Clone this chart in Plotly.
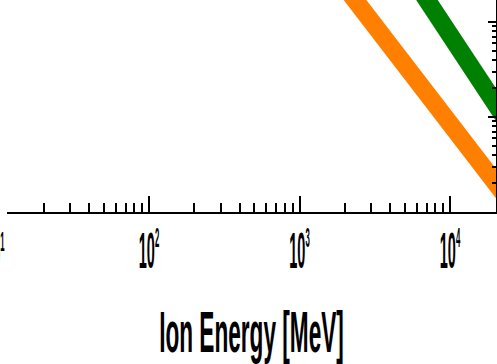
import plotly.graph_objects as go

# Ion energy [MeV] and the quantity plotted for each species
energy_orange = [2000, 5000, 10000, 20000, 25000]
value_orange = [235, 35.6, 8.55, 2.05, 1.29]

energy_green = [5000, 10000, 20000, 25000]
value_green = [386, 73, 13.9, 8.1]

# x-axis decades that carry a label
label_decades = [1, 2, 3, 4]

# axis ranges (log10 units)
x_range = [1.0565, 4.3056]
y_range = [0.0, 2.2316]

ORANGE = "rgb(255,128,0)"
GREEN = "rgb(0,128,0)"
FONT = "Liberation Sans, Arial, sans-serif"
LABEL_SIZE = 50
SUP_SHIFT_SIZE = 43   # sets how high the exponent is raised
SUP_SIZE = 27


def decade_label(p):
    return ('10<sup style="font-size:%dpx"><span style="font-size:%dpx">%d</span></sup>'
            % (SUP_SHIFT_SIZE, SUP_SIZE, p))


fig = go.Figure()
fig.add_trace(go.Scatter(x=energy_orange, y=value_orange, mode="lines",
                         line=dict(color=ORANGE, width=18), showlegend=False))
fig.add_trace(go.Scatter(x=energy_green, y=value_green, mode="lines",
                         line=dict(color=GREEN, width=18), showlegend=False))

shown = [p for p in label_decades if x_range[0] <= p <= x_range[1]]
hidden = [p for p in label_decades if p < x_range[0]]

fig.update_xaxes(
    type="log", range=x_range,
    showline=True, linecolor="black", linewidth=2, mirror=False,
    showgrid=False, zeroline=False,
    ticks="inside", ticklen=16, tickwidth=2, tickcolor="black",
    tickvals=[10 ** p for p in shown], ticktext=[decade_label(p) for p in shown],
    tickfont=dict(family=FONT, size=LABEL_SIZE, color="black", weight="bold"),
    ticklabelstandoff=-6,
    minor=dict(ticks="inside", ticklen=9, tickwidth=2, tickcolor="black", dtick="D1"),
    title=dict(text="Ion Energy [MeV]", standoff=33,
               font=dict(family=FONT, size=58, color="black", weight="bold")),
)
fig.update_yaxes(
    type="log", range=y_range, side="right",
    showline=True, linecolor="black", linewidth=2,
    showgrid=False, zeroline=False, showticklabels=False,
    ticks="inside", ticklen=8, tickwidth=2, tickcolor="black", dtick=1,
    minor=dict(ticks="inside", ticklen=4, tickwidth=2, tickcolor="black", dtick="D1"),
)

# decade label sitting just left of the axis start
for p in hidden:
    fig.add_annotation(
        x=(p - x_range[0]) / (x_range[1] - x_range[0]), xref="paper",
        y=-0.09, yref="paper", yanchor="top", xanchor="center",
        xshift=-4, yshift=6,
        text=decade_label(p), showarrow=False,
        font=dict(family=FONT, size=LABEL_SIZE, color="black", weight="bold"),
    )

fig.update_layout(
    width=497, height=364,
    margin=dict(l=7, r=1, t=0, b=152, pad=0),
    plot_bgcolor="white", paper_bgcolor="white",
)

# narrow the bold lettering horizontally (condensed look)
condense_js = """
var gd = document.getElementById('{plot_id}');
function condense(sel, s) {
  gd.querySelectorAll(sel).forEach(function (t) {
    var b = t.getBBox();
    var cx = b.x + b.width / 2;
    var tr = t.getAttribute('transform') || '';
    t.setAttribute('transform', tr + ' translate(' + cx + ',0) scale(' + s + ',1) translate(' + (-cx) + ',0)');
  });
}
condense('g.xtick text', 0.29);
condense('text.xtitle', 0.39);
condense('g.annotation text', 0.29);
"""

fig.write_html("out.html", post_script=condense_js)
